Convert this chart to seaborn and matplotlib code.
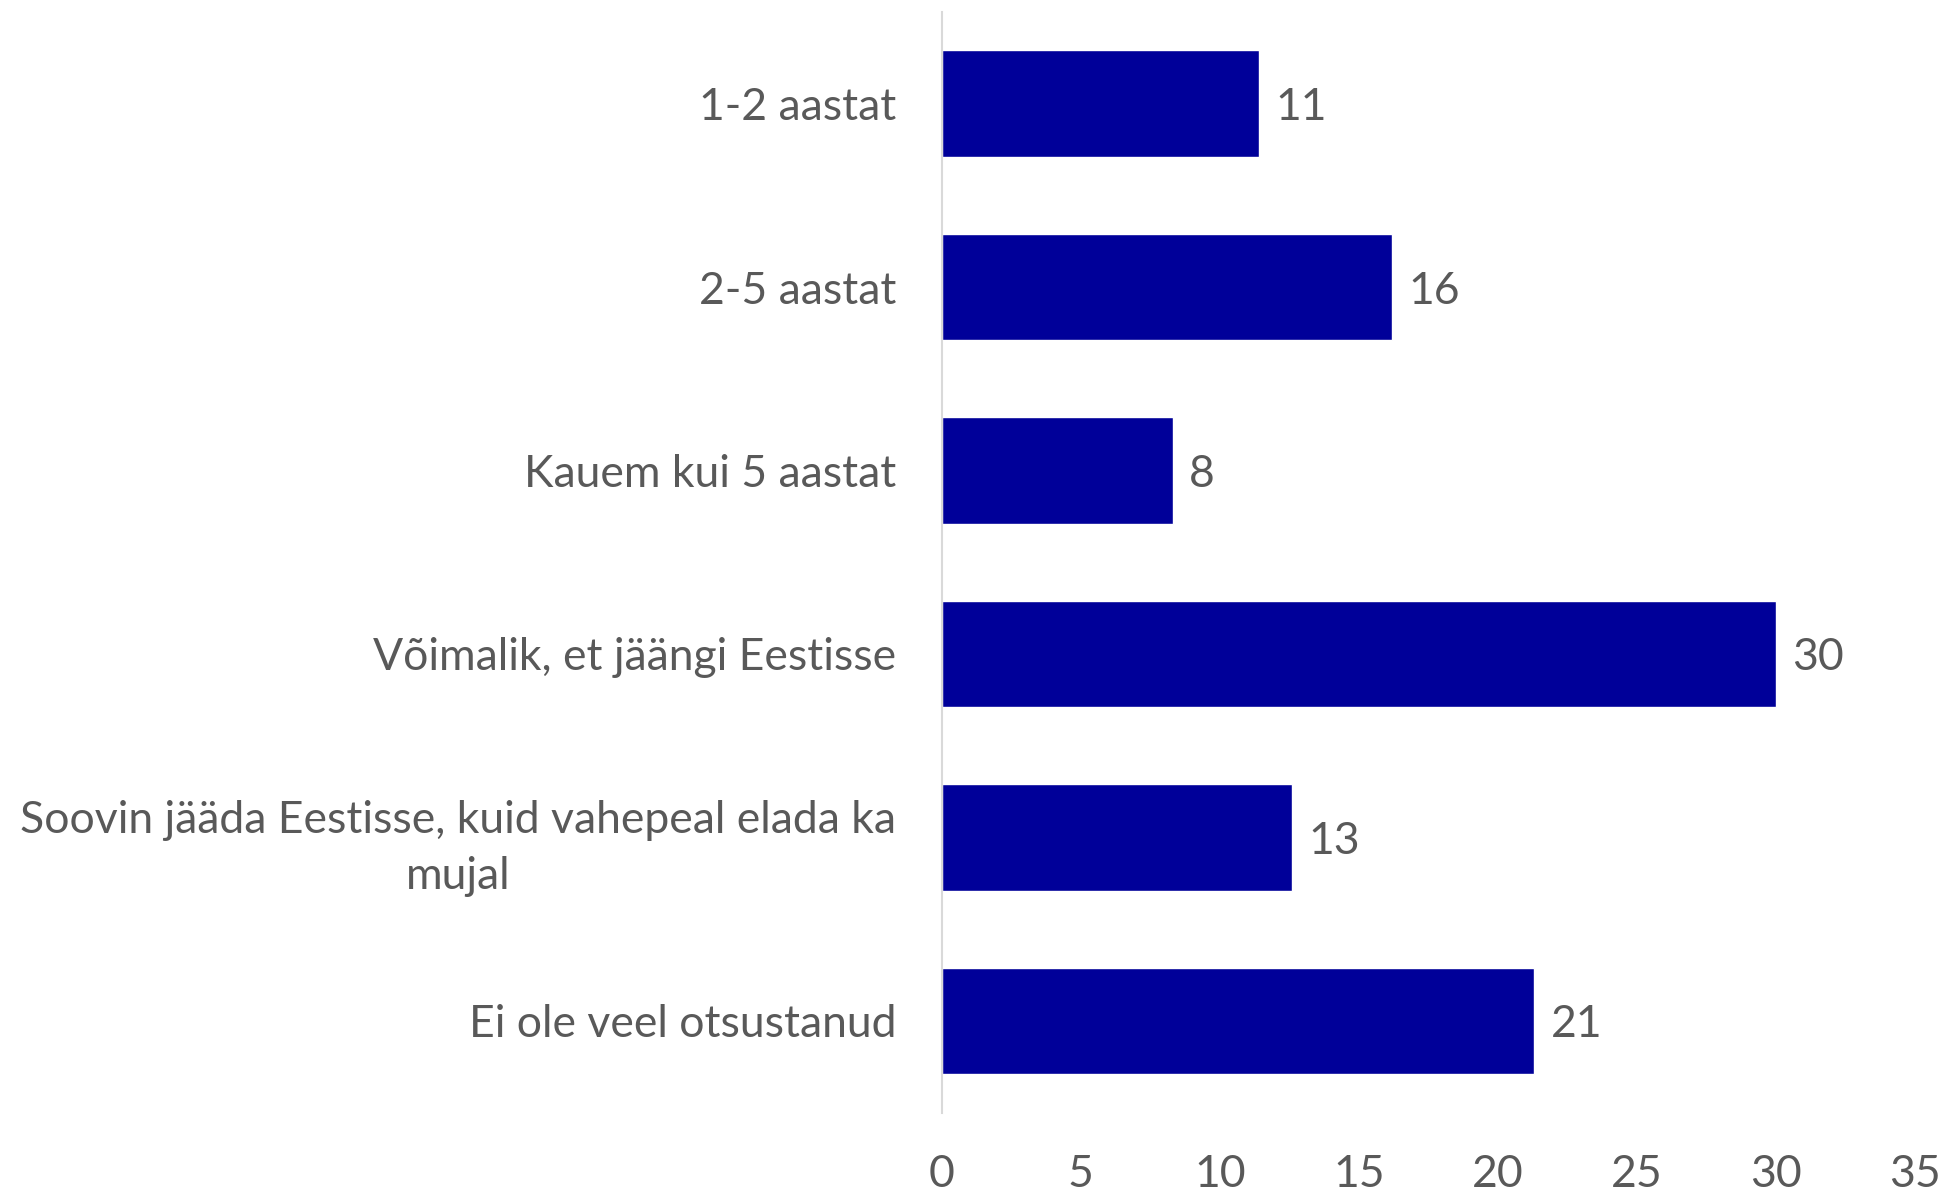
import matplotlib
matplotlib.use("Agg")
import matplotlib.pyplot as plt
import pandas as pd
import seaborn as sns

kategooriad = [
    "1-2 aastat",
    "2-5 aastat",
    "Kauem kui 5 aastat",
    "Võimalik, et jäängi Eestisse",
    "Soovin jääda Eestisse, kuid vahepeal elada ka\nmujal",
    "Ei ole veel otsustanud",
]
protsendid = [11.4, 16.2, 8.3, 30.0, 12.6, 21.3]
x_ticks = [0, 5, 10, 15, 20, 25, 30, 35]

df = pd.DataFrame({"kategooria": kategooriad, "protsent": protsendid})

sns.set_style("white")
plt.rcParams["font.family"] = ["Lato", "DejaVu Sans"]

tekst = "#595959"
fig = plt.figure(figsize=(19.46, 11.95), dpi=100)
ax = fig.add_axes([0.484, 0.069, 0.5, 0.921])

sns.barplot(data=df, x="protsent", y="kategooria", orient="h",
            color="#000099", width=0.58, saturation=1, ax=ax)

# arvud tulpade otsa
silt = ax.bar_label(ax.containers[0], labels=[f"{v:.0f}" for v in protsendid],
                    padding=12, fontsize=32, color=tekst)
for t in silt:
    t.set_va("center_baseline")

ax.set_xlim(0, 35)
ax.set_ylim(5.5, -0.5)
ax.set_xticks(x_ticks)
ax.set_xlabel("")
ax.set_ylabel("")
ax.tick_params(axis="x", length=0, pad=30, labelsize=32, labelcolor=tekst)
ax.tick_params(axis="y", length=0, pad=33, labelsize=32, labelcolor=tekst)
for lbl in ax.get_yticklabels():
    lbl.set_multialignment("center")
    lbl.set_linespacing(1.45)

for s in ["top", "right", "bottom"]:
    ax.spines[s].set_visible(False)
ax.spines["left"].set_color("#d9d9d9")
ax.spines["left"].set_linewidth(1.5)

fig.savefig("out.png", dpi=100, facecolor="white")
